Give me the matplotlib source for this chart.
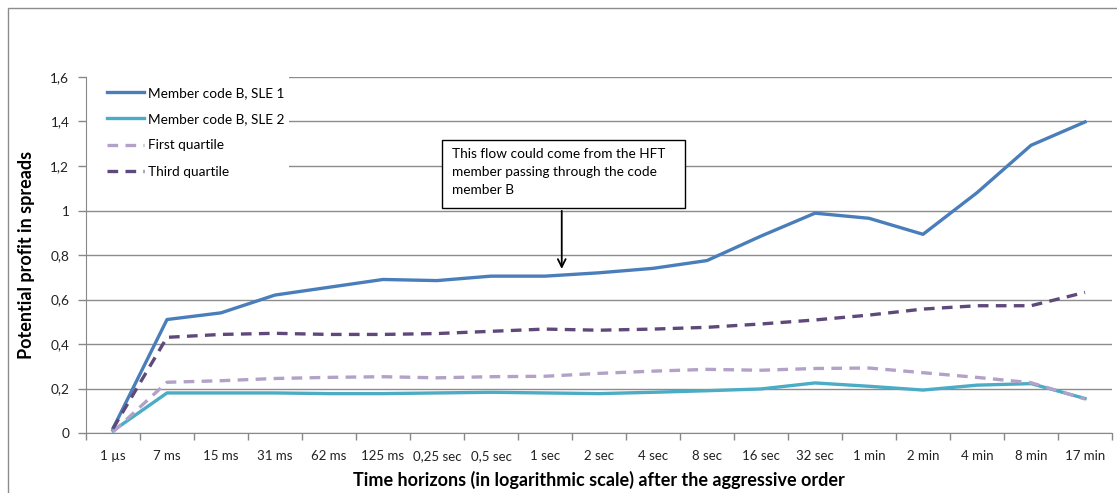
import matplotlib.pyplot as plt
from matplotlib.patches import Rectangle
from matplotlib.ticker import FixedLocator, FuncFormatter
import numpy as np

plt.rcParams['font.family'] = ['Lato', 'DejaVu Sans']

horizons = ['1 µs', '7 ms', '15 ms', '31 ms', '62 ms', '125 ms', '0,25 sec', '0,5 sec',
            '1 sec', '2 sec', '4 sec', '8 sec', '16 sec', '32 sec', '1 min', '2 min',
            '4 min', '8 min', '17 min']

sle1 = [0.02, 0.51, 0.54, 0.62, 0.655, 0.69, 0.685, 0.705, 0.705, 0.72, 0.74, 0.775,
        0.885, 0.988, 0.965, 0.893, 1.08, 1.293, 1.398]
sle2 = [0.01, 0.18, 0.18, 0.18, 0.177, 0.177, 0.18, 0.183, 0.18, 0.177, 0.183, 0.19,
        0.198, 0.225, 0.21, 0.193, 0.215, 0.222, 0.155]
q1 = [0.005, 0.228, 0.235, 0.245, 0.25, 0.253, 0.248, 0.253, 0.255, 0.268, 0.278, 0.286,
      0.282, 0.29, 0.292, 0.271, 0.25, 0.226, 0.153]
q3 = [0.02, 0.43, 0.443, 0.448, 0.443, 0.443, 0.447, 0.457, 0.467, 0.462, 0.467, 0.475,
      0.49, 0.508, 0.53, 0.557, 0.572, 0.572, 0.632]

W, H = 1117, 493
fig = plt.figure(figsize=(W / 100, H / 100), dpi=100)
ax = fig.add_axes([86 / W, 1 - 433 / H, (1112 - 86) / W, (433 - 77) / H])

# outer chart frame (cut off at right/bottom like the original)
fig.patches.append(Rectangle((8 / W, -0.2), 1.2, 1.2 - 8 / H, transform=fig.transFigure,
                             fill=False, ec='#8c8c8c', lw=1.0))

x = np.arange(len(horizons))
lw = 2.4
ax.plot(x, sle1, color='#4a7ebb', lw=lw, label='Member code B, SLE 1')
ax.plot(x, sle2, color='#4bacc6', lw=lw, label='Member code B, SLE 2')
ax.plot(x, q1, color='#b3a2c7', lw=lw, ls=(0, (3.2, 2.2)), label='First quartile')
ax.plot(x, q3, color='#5f497a', lw=lw, ls=(0, (3.2, 2.2)), label='Third quartile')

ax.set_xlim(-0.5, len(horizons) - 0.5)
ax.set_ylim(0, 1.6)
ax.set_yticks(np.arange(0, 1.61, 0.2))
ax.yaxis.set_major_formatter(FuncFormatter(lambda v, p: ('%g' % round(v, 1)).replace('.', ',')))
ax.set_xticks(x)
ax.set_xticklabels(horizons)
ax.xaxis.set_minor_locator(FixedLocator(np.arange(-0.5, len(horizons), 1)))
ax.tick_params(axis='x', which='major', length=0, pad=12, labelsize=9.5, colors='#222222')
ax.tick_params(axis='x', which='minor', length=5, color='#888888', width=1)
ax.tick_params(axis='y', length=6, color='#888888', width=1, labelsize=9.8, colors='#222222', pad=6)

ax.grid(axis='y', color='#8c8c8c', lw=1)
ax.set_axisbelow(True)
for s in ['top', 'right']:
    ax.spines[s].set_visible(False)
ax.spines['left'].set_color('#888888')
ax.spines['bottom'].set_color('#888888')

ax.set_ylabel('Potential profit in spreads', fontsize=13, fontweight='bold', labelpad=11)
ax.set_xlabel('Time horizons (in logarithmic scale) after the aggressive order',
              fontsize=13, fontweight='bold', labelpad=7)

# white area behind the legend hides the gridlines there
ax.add_patch(Rectangle((-0.5, 1.13), 3.76, 0.47, fc='white', ec='none', zorder=1))
leg = ax.legend(loc='upper left', bbox_to_anchor=(100 / W, 1 - 80 / H),
                bbox_transform=fig.transFigure, frameon=False, fontsize=9.8,
                handlelength=2.75, handletextpad=0.3, labelspacing=1.05, borderpad=0)

# annotation box + arrow
ax.add_patch(Rectangle((6.09, 1.011), 4.5, 0.306, fill=True, fc='white', ec='black', lw=1, zorder=5))
ax.text(6.28, 1.28, 'This flow could come from the HFT\nmember passing through the code\nmember B',
        fontsize=9.8, va='top', ha='left', linespacing=1.6, zorder=6)
ax.annotate('', xy=(8.31, 0.725), xytext=(8.31, 1.011),
            arrowprops=dict(arrowstyle='->', color='black', lw=1.3, mutation_scale=14), zorder=6)

plt.savefig('out.png', dpi=100)
